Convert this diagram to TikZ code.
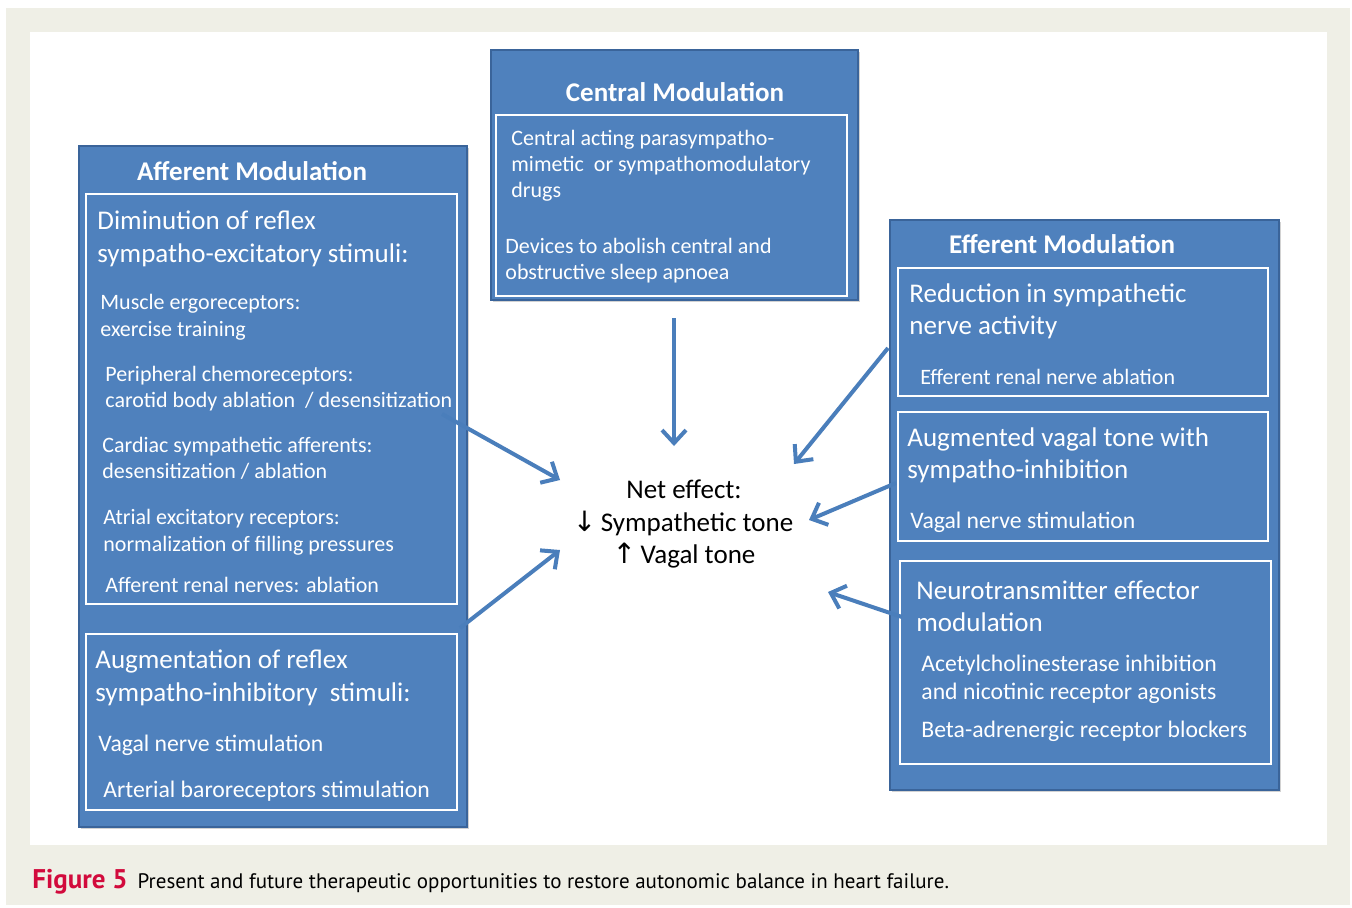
\documentclass[tikz,border=0pt]{standalone}
\usepackage{fontspec}
\setmainfont{Carlito}
\newfontfamily\arrfont{DejaVu Sans}
\newfontfamily\capfont{PT Sans}
\usetikzlibrary{arrows.meta,fit,shadows}
\definecolor{beige}{HTML}{EFEFE6}
\definecolor{boxblue}{HTML}{4F81BD}
\definecolor{boxedge}{HTML}{3A649A}
\definecolor{arrblue}{HTML}{4A7EBB}
\definecolor{figred}{HTML}{D20A3C}
\tikzset{
  outerbox/.style={fill=boxblue, draw=boxedge, line width=1pt, inner sep=0pt,
    drop shadow={shadow xshift=0.8pt, shadow yshift=-0.8pt, opacity=0.35}},
  innerbox/.style={draw=white, line width=1.3pt, inner sep=0pt},
  ttl/.style={font=\fontsize{13.5}{16}\selectfont\bfseries, text=white, anchor=base, inner sep=0pt},
  big/.style={font=\fontsize{13.5}{16}\selectfont, text=white, anchor=base west, inner sep=0pt},
  sml/.style={font=\fontsize{11}{13}\selectfont, text=white, anchor=base west, inner sep=0pt},
  med/.style={font=\fontsize{11.85}{14}\selectfont, text=white, anchor=base west, inner sep=0pt},
  net/.style={font=\fontsize{13.5}{16}\selectfont, anchor=base, inner sep=0pt},
  arr/.style={draw=arrblue, line width=2pt, -{Straight Barb[length=6.5pt,width=12pt,line width=2pt]}},
}
\begin{document}
\begin{tikzpicture}[x=0.5pt,y=-0.5pt]
\useasboundingbox (0,0) rectangle (1352,907);
\fill[white] (0,0) rectangle (1352,907);
\fill[beige] (6,8) rectangle (1350,905);
\fill[white] (30,32) rectangle (1327,845);

% Afferent
\node[outerbox, fit={(79,146) (467,827)}] (aff) {};
\node[ttl] (afft) at (252,180) {Afferent Modulation};
\node[innerbox, fit={(86,194) (457,604)}] (aff1) {};
\node[innerbox, fit={(86,634) (457,810)}] (aff2) {};
\node[big] (a1) at (97,229) {Diminution of reflex};
\node[big] (a2) at (97,262) {sympatho-excitatory stimuli:};
\node[sml] (a3) at (100,309) {Muscle ergoreceptors:};
\node[sml] (a4) at (100,336) {exercise training};
\node[sml] (a5) at (105,381) {Peripheral chemoreceptors:};
\node[sml] (a6) at (105,407) {carotid body ablation~ / desensitization};
\node[sml] (a7) at (102,452) {Cardiac sympathetic afferents:};
\node[sml] (a8) at (102,478) {desensitization / ablation};
\node[sml] (a9) at (103,524) {Atrial excitatory receptors:};
\node[sml] (a10) at (103,551) {normalization of filling pressures};
\node[sml] (a11) at (105,592) {Afferent renal nerves: ablation};
\node[big] (b1) at (95,668) {Augmentation of reflex};
\node[big] (b2) at (95,701) {sympatho-inhibitory~ stimuli:};
\node[med] (b3) at (98,751) {Vagal nerve stimulation};
\node[med] (b4) at (103,797) {Arterial baroreceptors stimulation};

% Central
\node[outerbox, fit={(491,50) (858,300)}] (cen) {};
\node[ttl] (cent) at (675,101) {Central Modulation};
\node[innerbox, fit={(496,115) (847,296)}] (cen1) {};
\node[sml] (c1) at (511,145) {Central acting parasympatho-};
\node[sml] (c2) at (511,171) {mimetic~ or sympathomodulatory};
\node[sml] (c3) at (511,197) {drugs};
\node[sml] (c4) at (505,253) {Devices to abolish central and};
\node[sml] (c5) at (505,279) {obstructive sleep apnoea};

% Efferent
\node[outerbox, fit={(890,220) (1279,790)}] (eff) {};
\node[ttl] (efft) at (1062,253) {Efferent Modulation};
\node[innerbox, fit={(898,268) (1268,396)}] (eff1) {};
\node[innerbox, fit={(898,412) (1268,541)}] (eff2) {};
\node[innerbox, fit={(900,561) (1271,764)}] (eff3) {};
\node[big] (e1) at (909,302) {Reduction in sympathetic};
\node[big] (e2) at (909,334) {nerve activity};
\node[sml] (e3) at (920,384) {Efferent renal nerve ablation};
\node[big] (e4) at (907,446) {Augmented vagal tone with};
\node[big] (e5) at (907,478) {sympatho-inhibition};
\node[med] (e6) at (910,528) {Vagal nerve stimulation};
\node[big] (e7) at (916,599) {Neurotransmitter effector};
\node[big] (e8) at (916,631) {modulation};
\node[med] (e9) at (921,671) {Acetylcholinesterase inhibition};
\node[med] (e10) at (921,699) {and nicotinic receptor agonists};
\node[med] (e11) at (921,737) {Beta-adrenergic receptor blockers};

% Net effect
\node[net] (n1) at (684,498) {Net effect:};
\node[net] (n2) at (683,531) {{\arrfont\fontsize{14}{16}\selectfont↓}\,Sympathetic tone};
\node[net] (n3) at (684,563) {{\arrfont\fontsize{14}{16}\selectfont↑}\,Vagal tone};

% Arrow end points
\coordinate (s1) at (674,318);  \coordinate (t1) at (674,446);
\coordinate (s2) at (442,414);  \coordinate (t2) at (560,480);
\coordinate (s3) at (460,628);  \coordinate (t3) at (560,550);
\coordinate (s4) at (888,348);  \coordinate (t4) at (794,464);
\coordinate (s5) at (896,483);  \coordinate (t5) at (809,520);
\coordinate (s6) at (902,617);  \coordinate (t6) at (828,592);
\draw[arr] (s1) -- (t1);
\draw[arr] (s2) -- (t2);
\draw[arr] (s3) -- (t3);
\draw[arr] (s4) -- (t4);
\draw[arr] (s5) -- (t5);
\draw[arr] (s6) -- (t6);

% Caption
\node[anchor=base west, inner sep=0pt, font=\capfont\fontsize{10.5}{12}\selectfont] (cap) at (32,888)
  {{\color{figred}\bfseries\fontsize{13.5}{15}\selectfont Figure 5}\hspace{5pt}Present and future therapeutic opportunities to restore autonomic balance in heart failure.};
\end{tikzpicture}
\end{document}
